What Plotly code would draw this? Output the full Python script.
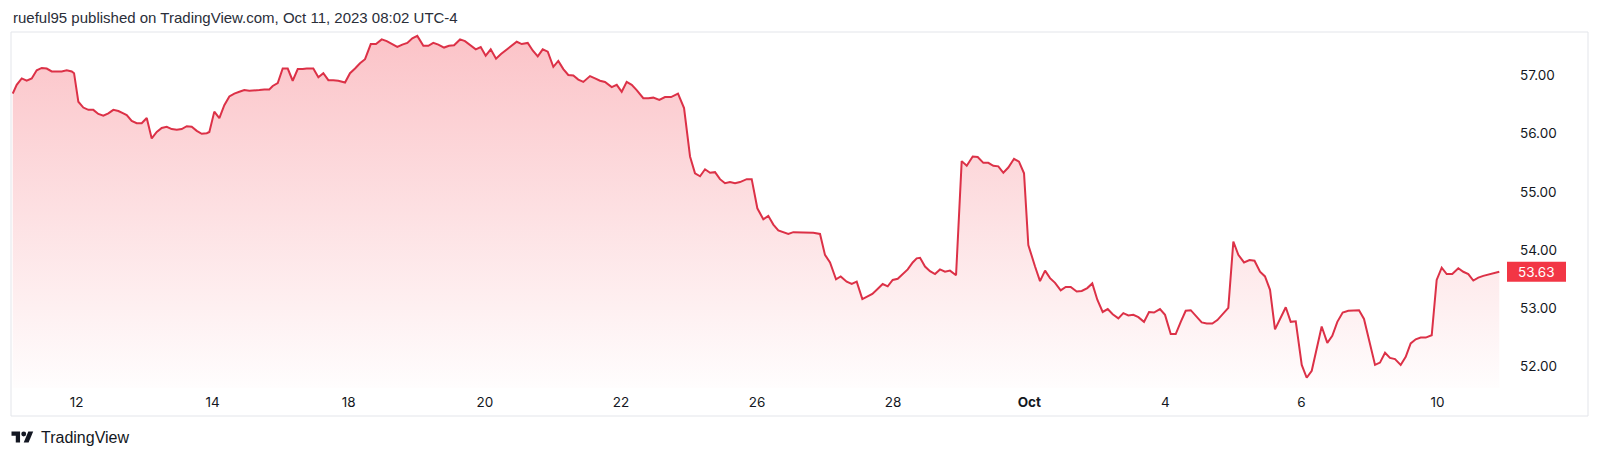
import plotly.graph_objects as go

# ---------------- data ----------------
title_text = "rueful95 published on TradingView.com, Oct 11, 2023 08:02 UTC-4"
brand_text = "TradingView"

# trading-day index (0 = Sep 11 open), weekends removed
day_ticks = [1, 3, 5, 7, 9, 11, 13, 15, 17, 19, 21]
day_labels = ["12", "14", "18", "20", "22", "26", "28", "<b>Oct</b>", "4", "6", "10"]
price_ticks = [52, 53, 54, 55, 56, 57]

t = [0.062, 0.120, 0.194, 0.267, 0.341, 0.414, 0.488, 0.561, 0.635, 0.708, 0.782, 0.855, 0.929, 0.963,
     1.026, 1.099, 1.173, 1.246, 1.320, 1.393, 1.467, 1.540, 1.614, 1.687, 1.737, 1.810, 1.884, 1.957,
     2.031, 2.104, 2.178, 2.251, 2.325, 2.398, 2.472, 2.545, 2.619, 2.692, 2.766, 2.839, 2.913, 2.951,
     3.024, 3.098, 3.171, 3.245, 3.318, 3.392, 3.465, 3.539, 3.612, 3.686, 3.759, 3.832, 3.882, 3.956,
     4.029, 4.103, 4.176, 4.250, 4.323, 4.382, 4.479, 4.553, 4.626, 4.700, 4.773, 4.846, 4.945,
     5.018, 5.092, 5.165, 5.239, 5.323, 5.400, 5.484, 5.558, 5.631, 5.713, 5.787, 5.860, 5.934,
     6.007, 6.096, 6.169, 6.242, 6.316, 6.400, 6.473, 6.547, 6.635, 6.708, 6.792, 6.866, 6.939,
     7.012, 7.086, 7.164, 7.237, 7.321, 7.395, 7.468, 7.542, 7.630, 7.703, 7.777, 7.850, 7.924,
     8.006, 8.079, 8.153, 8.226, 8.300, 8.373, 8.447, 8.545, 8.619, 8.692, 8.765, 8.864, 8.938,
     9.011, 9.084, 9.158, 9.231, 9.328, 9.402, 9.475, 9.564, 9.647, 9.736, 9.838, 9.927,
     10.015, 10.088, 10.162, 10.235, 10.309, 10.382, 10.455, 10.529, 10.602, 10.676, 10.749, 10.848, 10.921,
     11.004, 11.092, 11.165, 11.239, 11.312, 11.386, 11.459, 11.533, 11.631, 11.730, 11.826, 11.925, 11.998,
     12.072, 12.160, 12.229, 12.317, 12.391, 12.464, 12.547, 12.620, 12.694, 12.767, 12.846, 12.920, 12.993,
     13.067, 13.140, 13.214, 13.287, 13.346, 13.395, 13.468, 13.541, 13.615, 13.688, 13.762, 13.835, 13.924,
     14.007, 14.081, 14.169, 14.242, 14.325, 14.398, 14.472, 14.545, 14.619, 14.692, 14.776, 14.849, 14.923, 14.986,
     15.085, 15.158, 15.232, 15.305, 15.379, 15.462, 15.536, 15.609, 15.697, 15.771, 15.853, 15.926,
     16.000, 16.079, 16.153, 16.226, 16.309, 16.382, 16.456, 16.529, 16.603, 16.686, 16.760, 16.833, 16.921, 16.995,
     17.079, 17.152, 17.226, 17.299, 17.373, 17.450, 17.534, 17.608, 17.690, 17.764, 17.843, 17.925,
     17.999, 18.072, 18.156, 18.237, 18.310, 18.391, 18.464, 18.538, 18.611, 18.685, 18.769, 18.842, 18.916,
     19.004, 19.077, 19.151, 19.224, 19.297, 19.380, 19.453, 19.527, 19.606, 19.689, 19.762, 19.846, 19.919, 19.997,
     20.081, 20.154, 20.228, 20.301, 20.375, 20.458, 20.532, 20.605, 20.679, 20.752, 20.826, 20.914,
     20.987, 21.061, 21.134, 21.216, 21.305, 21.378, 21.452, 21.525, 21.599, 21.672, 21.746, 21.819, 21.907]

price = [56.69, 56.84, 56.95, 56.91, 56.95, 57.09, 57.13, 57.12, 57.07, 57.07, 57.07, 57.09, 57.07, 57.04,
         56.55, 56.45, 56.41, 56.41, 56.34, 56.31, 56.35, 56.41, 56.39, 56.35, 56.32, 56.22, 56.18, 56.18,
         56.27, 55.92, 56.03, 56.10, 56.12, 56.08, 56.07, 56.08, 56.13, 56.12, 56.05, 56.00, 56.01, 56.03,
         56.38, 56.27, 56.49, 56.64, 56.69, 56.72, 56.75, 56.74, 56.74, 56.75, 56.76, 56.76, 56.82, 56.87,
         57.12, 57.12, 56.91, 57.11, 57.11, 57.12, 57.12, 56.97, 57.04, 56.92, 56.92, 56.91, 56.88,
         57.04, 57.12, 57.21, 57.28, 57.54, 57.54, 57.62, 57.59, 57.54, 57.49, 57.53, 57.56, 57.64,
         57.68, 57.51, 57.51, 57.56, 57.53, 57.48, 57.51, 57.52, 57.62, 57.59, 57.52, 57.45, 57.49,
         57.34, 57.45, 57.29, 57.37, 57.45, 57.52, 57.58, 57.54, 57.56, 57.43, 57.33, 57.45, 57.41,
         57.15, 57.25, 57.11, 57.01, 57.00, 56.93, 56.89, 56.99, 56.95, 56.91, 56.89, 56.80, 56.84,
         56.72, 56.89, 56.84, 56.75, 56.61, 56.61, 56.62, 56.58, 56.63, 56.63, 56.69, 56.44,
         55.61, 55.32, 55.27, 55.39, 55.33, 55.34, 55.22, 55.15, 55.17, 55.15, 55.17, 55.22, 55.22,
         54.72, 54.53, 54.59, 54.44, 54.34, 54.31, 54.28, 54.31, 54.31, 54.31, 54.30, 54.28, 53.92,
         53.79, 53.50, 53.55, 53.46, 53.42, 53.46, 53.16, 53.20, 53.25, 53.33, 53.42, 53.38, 53.49,
         53.51, 53.59, 53.67, 53.79, 53.86, 53.87, 53.72, 53.64, 53.59, 53.67, 53.63, 53.65, 53.57,
         55.53, 55.45, 55.61, 55.60, 55.50, 55.50, 55.45, 55.44, 55.33, 55.42, 55.57, 55.52, 55.32, 54.09,
         53.72, 53.47, 53.65, 53.52, 53.44, 53.31, 53.37, 53.37, 53.29, 53.30, 53.35, 53.43,
         53.15, 52.94, 52.99, 52.90, 52.83, 52.92, 52.88, 52.89, 52.85, 52.77, 52.94, 52.93, 52.99, 52.89,
         52.56, 52.56, 52.77, 52.96, 52.97, 52.86, 52.76, 52.74, 52.74, 52.80, 52.90, 53.01,
         54.15, 53.92, 53.79, 53.83, 53.82, 53.63, 53.55, 53.32, 52.64, 52.83, 53.02, 52.77, 52.78,
         52.03, 51.81, 51.93, 52.34, 52.69, 52.41, 52.53, 52.77, 52.93, 52.96, 52.96, 52.97, 52.82, 52.43,
         52.03, 52.07, 52.24, 52.15, 52.13, 52.03, 52.17, 52.40, 52.47, 52.50, 52.50, 52.54,
         53.49, 53.70, 53.59, 53.59, 53.69, 53.63, 53.59, 53.48, 53.53, 53.56, 53.58, 53.60, 53.63]

# ---------------- layout constants ----------------
W, H = 1600, 458
ML, MR, MT, MB = 12, 95, 33, 70
PW, PH = W - ML - MR, H - MT - MB
X_RANGE = [0.051, 21.991]
Y_RANGE = [51.634, 57.730]

RED = "#F23645"
LINE = "#dc3147"
TXT = "#131722"
FRAME = "#e3e5ea"


def px_x(p):
    return (p - ML) / PW


def px_y(p):
    return (H - MB - p) / PH


fig = go.Figure()
fig.add_trace(go.Scatter(
    x=t, y=price, mode="lines",
    line=dict(color=LINE, width=2),
    fill="tozeroy",
    fillgradient=dict(
        type="vertical",
        colorscale=[[0, "rgba(242,54,69,0.01)"], [1, "rgba(242,54,69,0.30)"]],
        start=Y_RANGE[0], stop=Y_RANGE[1],
    ),
    hoverinfo="skip",
    showlegend=False,
))

shapes = []
# outer frame
shapes.append(dict(type="rect", xref="paper", yref="paper",
                   x0=px_x(11), x1=px_x(1588), y0=px_y(416), y1=px_y(32),
                   line=dict(color=FRAME, width=1), fillcolor="rgba(0,0,0,0)", layer="below"))

# last price label box
last = price[-1]
shapes.append(dict(type="rect", xref="paper", yref="y",
                   x0=px_x(1507), x1=px_x(1566),
                   ysizemode="pixel", yanchor=last, y0=-10, y1=10,
                   line=dict(width=0), fillcolor=RED, layer="above"))

# TradingView logo
s = 0.611
ox, oy = 11.5, 429.06


def P(X, Y):
    return f"{px_x(ox + X * s):.5f},{px_y(oy + Y * s):.5f}"


tshape = "M" + " L".join(P(X, Y) for X, Y in [(0, 4), (14, 4), (14, 22), (7, 22), (7, 11), (0, 11)]) + " Z"
slant = "M" + " L".join(P(X, Y) for X, Y in [(20, 22), (27.5, 4), (35.5, 4), (28, 22)]) + " Z"
for pth in (tshape, slant):
    shapes.append(dict(type="path", xref="paper", yref="paper", path=pth,
                       fillcolor=TXT, line=dict(width=0)))
shapes.append(dict(type="circle", xref="paper", yref="paper",
                   x0=px_x(ox + 16 * s), x1=px_x(ox + 24 * s),
                   y0=px_y(oy + 12 * s), y1=px_y(oy + 4 * s),
                   fillcolor=TXT, line=dict(width=0)))

annotations = [
    dict(text=title_text, xref="paper", yref="paper", x=px_x(11), y=px_y(17.5),
         xanchor="left", yanchor="middle", showarrow=False,
         font=dict(family="Liberation Sans, Arial, sans-serif", size=15, color="#2a2e39")),
    dict(text=brand_text, xref="paper", yref="paper", x=px_x(38.5), y=px_y(437),
         xanchor="left", yanchor="middle", showarrow=False,
         font=dict(family="Liberation Sans, Arial, sans-serif", size=16, color=TXT)),
    dict(text=f"{last:.2f}", xref="paper", yref="y", x=px_x(1536.5), y=last,
         xanchor="center", yanchor="middle", showarrow=False,
         font=dict(family="Inter, sans-serif", size=13.5, color="white")),
]

fig.update_layout(
    width=W, height=H,
    margin=dict(l=ML, r=MR, t=MT, b=MB),
    paper_bgcolor="white", plot_bgcolor="white",
    shapes=shapes, annotations=annotations,
    xaxis=dict(range=X_RANGE, tickmode="array", tickvals=day_ticks, ticktext=day_labels,
               showgrid=False, zeroline=False, showline=False, ticks="",
               ticklabelstandoff=4,
               tickfont=dict(family="Inter, sans-serif", size=13.5, color=TXT), fixedrange=True),
    yaxis=dict(range=Y_RANGE, side="right", tickmode="array", tickvals=price_ticks,
               tickformat=".2f", showgrid=False, zeroline=False, showline=False, ticks="",
               ticklabelstandoff=14,
               tickfont=dict(family="Inter, sans-serif", size=13.5, color=TXT), fixedrange=True),
)

fig.write_html("out.html", config={"displayModeBar": False},
               post_script="document.body.style.margin='0';")
